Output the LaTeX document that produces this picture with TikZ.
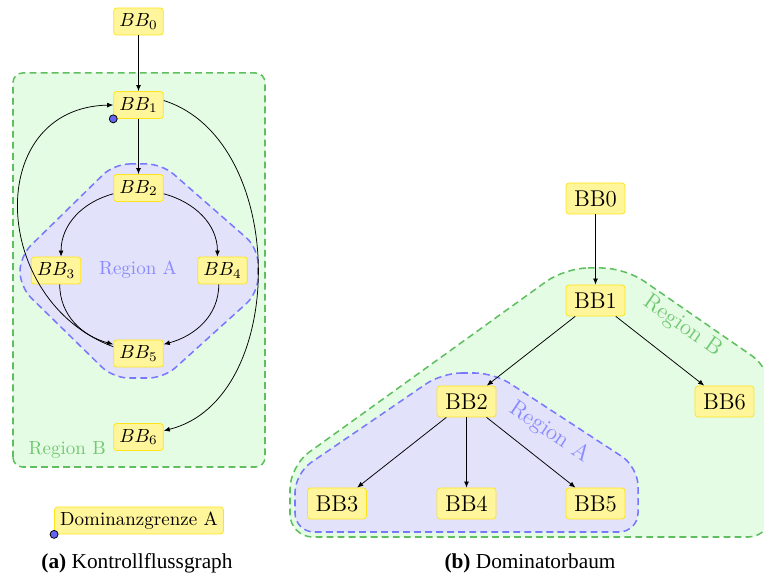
\documentclass[tikz,border=0pt]{standalone}
\usepackage{fontspec}
\newfontfamily\capfont{Liberation Serif}
\usetikzlibrary{arrows.meta}

\definecolor{bbfill}{HTML}{FFF59A}
\definecolor{bbline}{HTML}{FFE41C}
\definecolor{greenfill}{HTML}{E4FCE4}
\definecolor{greenline}{HTML}{5FBF5F}
\definecolor{greentext}{HTML}{72C872}
\definecolor{bluefill}{HTML}{E2E2FB}
\definecolor{blueline}{HTML}{7878FF}
\definecolor{bluetext}{HTML}{8A8AFF}
\definecolor{dotfill}{HTML}{6464F0}

\begin{document}
\begin{tikzpicture}[
  x=0.526pt, y=0.526pt,
  bb/.style={draw=bbline, fill=bbfill, rounded corners=1.6pt, inner sep=1pt,
    inner xsep=3pt, minimum height=14.2pt},
  bbtree/.style={bb, font=\large, minimum width=31pt, minimum height=16.3pt},
  regiona/.style={draw=blueline, fill=bluefill, line width=0.8pt,
    dash pattern=on 3.6pt off 2.2pt},
  regionb/.style={draw=greenline, fill=greenfill, line width=0.8pt,
    dash pattern=on 3.6pt off 2.2pt},
  edge/.style={-{Latex[length=3.2pt,width=2.6pt]}},
  grenze/.style={circle, draw, fill=dotfill, inner sep=0pt, minimum size=4.2pt},
  caption/.style={font=\capfont\fontsize{11.2pt}{13pt}\selectfont},
]
  \clip (0,0) rectangle (764,576);

  % (a) Kontrollflussgraph
  \draw[regionb, rounded corners=5pt] (13,109) rectangle (265,503);
  \draw[regiona, rounded corners=8pt] (114,412) -- (162,412) -- (258,328)
    -- (258,283) -- (164,198) -- (113,198) -- (20,289) -- (20,320) -- cycle;
  \node[text=bluetext] (ra) at (138,306) {Region A};
  \node[text=greentext, anchor=west] (rb) at (22,126) {Region B};

  \node[bb] (k0) at (138.5,554.5) {$BB_0$};
  \node[bb] (k1) at (138.5,471) {$BB_1$};
  \node[bb] (k2) at (138.5,388) {$BB_2$};
  \node[bb] (k3) at (56,305.5) {$BB_3$};
  \node[bb] (k4) at (222.5,305.5) {$BB_4$};
  \node[bb] (k5) at (138.5,222.5) {$BB_5$};
  \node[bb] (k6) at (138.5,139) {$BB_6$};

  \foreach \a/\b in {k0/k1, k1/k2}
    \draw[edge] (\a) -- (\b);
  \draw[edge] (k2.193) to[out=195, in=90] (k3.70);
  \draw[edge] (k2.-13) to[out=-15, in=90] (k4.110);
  \draw[edge] (k3.-75) to[out=-90, in=165] (k5.160);
  \draw[edge] (k4.-105) to[out=-90, in=15] (k5.20);
  \draw[edge] (k5.165) .. controls (-10,275) and (-17,468) .. (k1.west);
  \draw[edge] (k1.10) .. controls (289,436) and (289,176) .. (k6.14);

  \node[bb] (leg) at (139,55.5) {Dominanzgrenze A};
  \node[grenze] (g1) at (k1.south west) {};
  \node[grenze] (g2) at (leg.south west) {};

  \node[caption] (capa) at (137,13) {\textbf{(a)} Kontrollflussgraph};

  % (b) Dominatorbaum
  \draw[regionb, rounded corners=12pt] (565,308) -- (625,308) -- (771,207)
    -- (771,39) -- (290,39) -- (290,110) -- cycle;
  \draw[regiona, rounded corners=10pt] (442,203) -- (494,203) -- (638,109)
    -- (638,44) -- (295,44) -- (295,102.5) -- cycle;
  \node[text=greentext, font=\large, rotate=-35] (rb2) at (682.5,249.5) {Region B};
  \node[text=bluetext, font=\large, rotate=-34] (ra2) at (549.5,144) {Region A};

  \node[bbtree] (d0) at (595.5,377.5) {BB0};
  \node[bbtree] (d1) at (595.5,275.5) {BB1};
  \node[bbtree] (d2) at (466.5,174.5) {BB2};
  \node[bbtree] (d6) at (724.5,174.5) {BB6};
  \node[bbtree] (d3) at (337,72.5) {BB3};
  \node[bbtree] (d4) at (466.5,72.5) {BB4};
  \node[bbtree] (d5) at (595.5,72.5) {BB5};

  \foreach \a/\b in {d0/d1, d1/d2, d1/d6, d2/d3, d2/d4, d2/d5}
    \draw[edge] (\a) -- (\b);

  \node[caption] (capb) at (530,13) {\textbf{(b)} Dominatorbaum};
\end{tikzpicture}
\end{document}
